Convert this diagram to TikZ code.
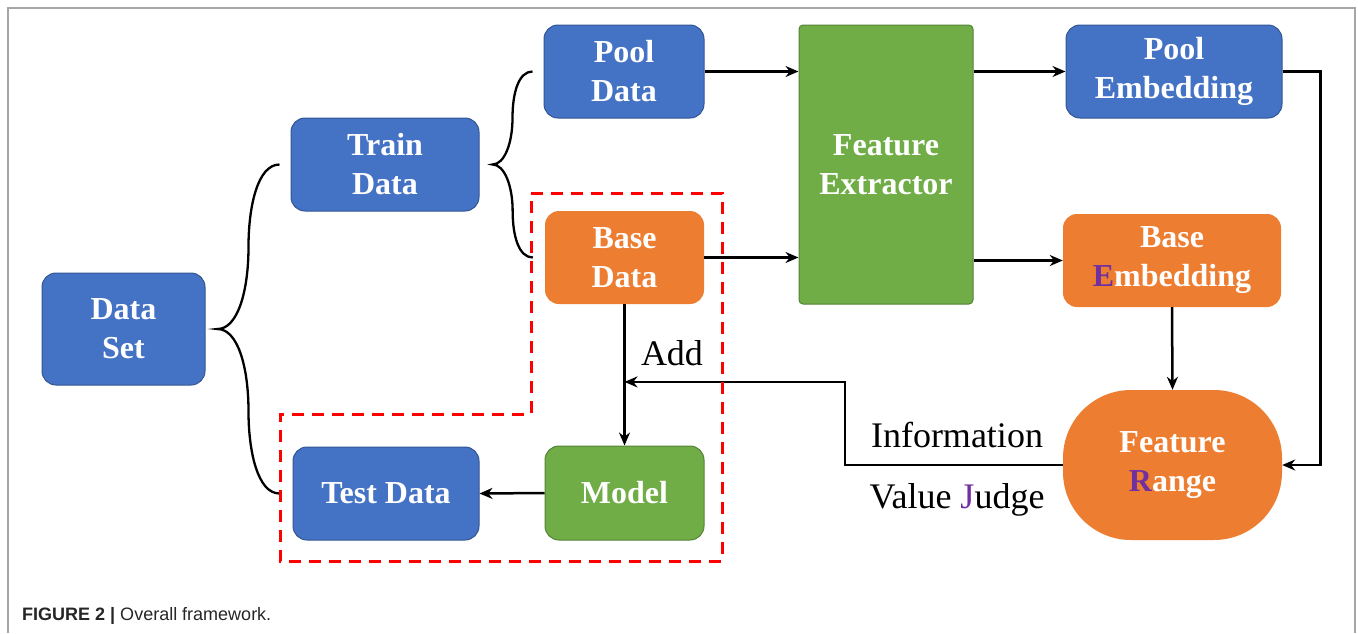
\documentclass[tikz,border=0pt]{standalone}
\usepackage{fontspec}
\setmainfont{Liberation Serif}
\newfontfamily\capfont{Liberation Sans}
\usetikzlibrary{calc, arrows.meta}

\definecolor{boxblue}{HTML}{4472C4}
\definecolor{boxorange}{HTML}{ED7D31}
\definecolor{boxgreen}{HTML}{70AD47}
\definecolor{letterpurple}{HTML}{7030A0}

\begin{document}
\begin{tikzpicture}[x=1pt, y=-1pt,
    box/.style={
        rectangle,
        rounded corners=14pt,
        align=center,
        text=white,
        inner sep=0pt,
        font=\fontsize{32}{39}\selectfont\bfseries
      },
    bluebox/.style={box, fill=boxblue, draw=boxblue!75!black, line width=1pt},
    orangebox/.style={box, fill=boxorange},
    greenbox/.style={box, fill=boxgreen, draw=boxgreen!75!black, line width=1pt},
    label/.style={inner sep=0pt, font=\fontsize{36}{40}\selectfont},
    conn/.style={->, line width=2.5pt},
    curly/.style={line width=2.3pt},
    redzone/.style={red, line width=3pt, dash pattern=on 12pt off 8pt},
    >={Stealth[length=13pt, width=11pt]}]
    \useasboundingbox (0,0) rectangle (1358,633);
    \draw[gray!70, line width=1.5pt] (8,633) -- (8,8) -- (1355,8) -- (1355,633);

    % boxes
    \node[bluebox, minimum width=163pt, minimum height=112pt] (dset) at (123.5,329) {Data\\Set};
    \node[bluebox, minimum width=188pt, minimum height=93pt] (train) at (385,164.5) {Train\\Data};
    \node[bluebox, minimum width=186pt, minimum height=93pt] (test) at (386,493.5) {Test Data};
    \node[bluebox, minimum width=160pt, minimum height=93pt] (pool) at (624,71.5) {Pool\\Data};
    \node[orangebox, minimum width=159pt, minimum height=93pt] (base) at (624.5,257.5) {Base\\Data};
    \node[greenbox, minimum width=159pt, minimum height=94pt] (model) at (624.5,493) {Model};
    \node[greenbox, rounded corners=4pt, minimum width=174pt, minimum height=279pt] (fe) at (886,164.5) {Feature\\Extractor};
    \node[bluebox, minimum width=216pt, minimum height=93pt] (poolemb) at (1174,71.5) {Pool\\Embedding};
    \node[orangebox, minimum width=218pt, minimum height=93pt] (baseemb) at (1172,260.5) {Base\\\textcolor{letterpurple}{E}mbedding};
    \node[orangebox, rounded corners=68pt, minimum width=219pt, minimum height=150pt] (frange) at (1172.5,465) {Feature\\\textcolor{letterpurple}{R}ange};

    % texts
    \node[label] (add) at (672,353) {Add};
    \node[label] (info) at (957,435) {Information};
    \node[label] (judge) at (957,500) {Value \textcolor{letterpurple}{J}udge};

    % braces
    \coordinate (b1tip) at ($(dset.east)+(12,0)$);
    \coordinate (b1top) at ($(train.west)+(-11,0)$);
    \coordinate (b1bot) at ($(test.west)+(-13,0)$);
    \draw[curly] (b1top) .. controls +(-22,0) and +(0,-40) .. ($(b1tip)!0.5!(b1top)$)
      .. controls +(0,45) and +(20,0) .. (b1tip)
      .. controls +(20,0) and +(0,-45) .. ($(b1tip)!0.5!(b1bot)$)
      .. controls +(0,40) and +(-22,0) .. (b1bot);
    \coordinate (b2tip) at ($(train.east)+(13,0)$);
    \coordinate (b2top) at ($(pool.west)+(-11,0)$);
    \coordinate (b2bot) at ($(base.west)+(-12,0)$);
    \draw[curly] (b2top) .. controls +(-14,0) and +(0,-25) .. ($(b2tip)!0.5!(b2top)$)
      .. controls +(0,25) and +(12,0) .. (b2tip)
      .. controls +(12,0) and +(0,-25) .. ($(b2tip)!0.5!(b2bot)$)
      .. controls +(0,25) and +(-14,0) .. (b2bot);

    % arrows
    \draw[conn] (pool.east) -- (pool.east -| fe.west);
    \draw[conn] (base.east) -- (base.east -| fe.west);
    \draw[conn] (poolemb.west -| fe.east) -- (poolemb.west);
    \draw[conn] (baseemb.west -| fe.east) -- (baseemb.west);
    \draw[conn] (baseemb.south) -- (frange.north);
    \draw[conn] (poolemb.east) -- ++(38,0) |- (frange.east);
    \draw[conn] (base.south) -- (model.north);
    \coordinate (join) at ($(base.south)!0.55!(model.north)$);
    \draw[conn] (frange.west) -- ++(-218,0) |- (join);
    \draw[conn] (model.west) -- (test.east);

    % region of the model
    \draw[redzone] (531,193) -- (722,193) -- (722,561) -- (280,561) -- (280,414) -- (531,414) -- cycle;

    \node[anchor=base west, inner sep=0pt, text=black!85, font=\capfont\fontsize{18}{20}\selectfont] (caption) at (22,620) {\textbf{FIGURE 2 |} Overall framework.};
  \end{tikzpicture}
\end{document}
